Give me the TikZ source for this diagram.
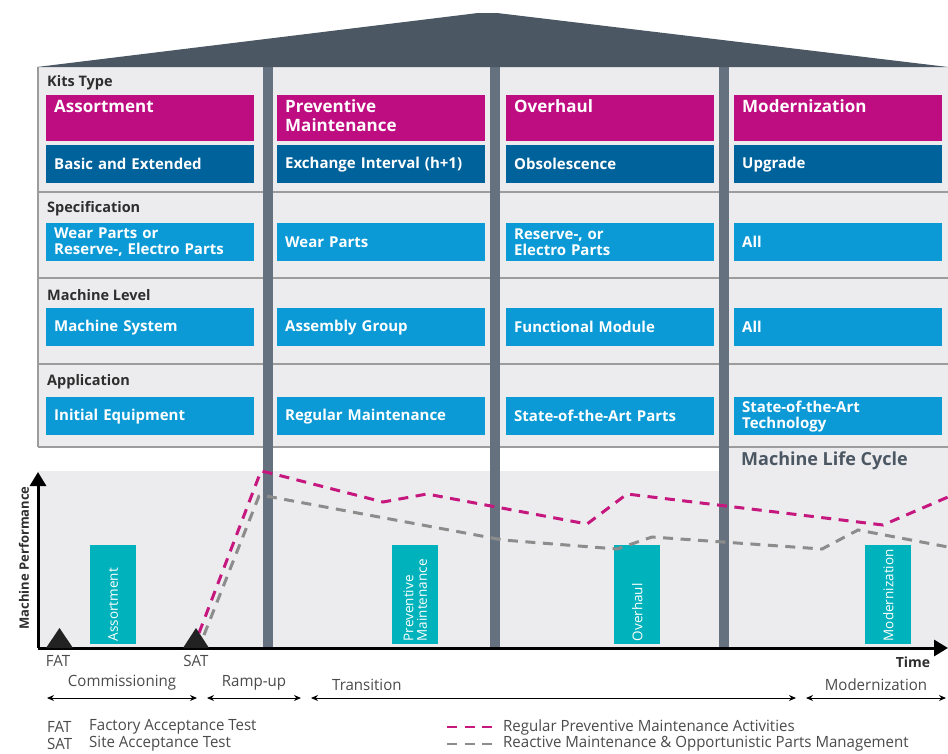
\documentclass[tikz,border=0pt]{standalone}
\usepackage{fontspec}
\setmainfont{Open Sans}
\newfontfamily\narrowfont[FakeStretch=0.97]{Open Sans}
\usetikzlibrary{arrows.meta, positioning}
\tikzset{x=1pt, y=-1pt, >={Stealth}}

\begin{document}
\begin{tikzpicture}
% Style
[
    line cap=butt,
    row title/.style={anchor=west, inner sep=0pt, text=title_color,
        font=\bfseries\fontsize{14.5}{16}\selectfont},
    kit box/.style={anchor=north west, fill=kit_color, text=white,
        minimum width=208pt, text width=192pt, align=left,
        inner xsep=8pt, inner ysep=4pt, text height=13pt, text depth=25pt,
        font=\bfseries\fontsize{17}{19.5}\selectfont},
    type box/.style={anchor=north west, fill=type_color, text=white,
        minimum width=208pt, minimum height=38pt, text width=192pt, align=left,
        inner xsep=8pt, inner ysep=2pt, font=\bfseries\fontsize{15}{16}\selectfont},
    item box/.style={type box, fill=item_color},
    bar/.style={anchor=north west, fill=bar_color, minimum width=46pt,
        minimum height=99pt, inner sep=0pt},
    bar text/.style={rotate=90, anchor=west, text=white, align=left, inner sep=0pt,
        font=\fontsize{13.5}{13.5}\selectfont},
    pillar/.style={fill=pillar_color},
    separator/.style={draw=line_color, line width=1.2pt},
    axis/.style={line width=3pt, -{Triangle[width=16pt,length=14pt]}},
    marker/.style={fill=marker_color},
    preventive line/.style={draw=preventive_color, line width=3pt, dash pattern=on 10pt off 7.5pt},
    reactive line/.style={draw=reactive_color, line width=3pt, dash pattern=on 10pt off 7.5pt},
    phase arrow/.style={line width=1pt, {Stealth[length=7pt,width=6pt]}-{Stealth[length=7pt,width=6pt]}},
    small text/.style={font=\narrowfont\fontsize{15.5}{17}\selectfont, text=text_color, inner sep=0pt},
    axis title/.style={font=\bfseries\fontsize{13}{15}\selectfont, text=title_color, inner sep=0pt}
]

% Define: Colors
\definecolor{roof_color}{HTML}{4B5763}
\definecolor{pillar_color}{HTML}{66717F}
\definecolor{table_color}{HTML}{ECECEE}
\definecolor{line_color}{HTML}{9C9C9C}
\definecolor{kit_color}{HTML}{BE0D80}
\definecolor{type_color}{HTML}{00629A}
\definecolor{item_color}{HTML}{0B9AD6}
\definecolor{bar_color}{HTML}{00B2BB}
\definecolor{preventive_color}{HTML}{C6177F}
\definecolor{reactive_color}{HTML}{8C8C8C}
\definecolor{title_color}{HTML}{2E2E2E}
\definecolor{text_color}{HTML}{4A4A4A}
\definecolor{marker_color}{HTML}{222222}

%================================== Prepare ==================================
\def\kitcolumn#1#2#3#4#5#6#7{
    % Draw: Column-#1
    \node[kit box]  (kit-#1)   at (#2,95)  {#3};
    \node[type box] (type-#1)  at (#2,145) {#4};
    \node[item box] (spec-#1)  at (#2,223) {#5};
    \node[item box] (level-#1) at (#2,308) {#6};
    \node[item box] (app-#1)   at (#2,397) {#7};
}

%=================================== Start ===================================
{
    \useasboundingbox (0,0) rectangle (948,753);

    % Draw: Table and chart background
    \fill[table_color] (38,67) rectangle (948,447);
    \fill[table_color] (38,471) rectangle (948,648);
    \fill[table_color] (729,447) rectangle (948,471);
    \foreach \y in {192, 278, 364, 447} {
        \draw[separator] (38,\y) -- (948,\y);
    }
    \draw[separator] (38,67) -- (38,447);

    % Draw: Pillars and roof
    \foreach \x in {263, 490, 719} {
        \fill[pillar] (\x,67) rectangle (\x+9.5,648);
    }
    \fill[roof_color] (37,67) -- (478,13) -- (497,13) -- (948,67) -- cycle;

    % Draw: Row titles
    \node[row title] (kits-title)  at (47,83)  {Kits Type};
    \node[row title] (spec-title)  at (47,209) {Specification};
    \node[row title] (level-title) at (47,295) {Machine Level};
    \node[row title] (app-title)   at (47,382) {Application};

    % Draw: Columns
    \kitcolumn{1}{46}{Assortment}{Basic and Extended}
        {Wear Parts or\\Reserve-, Electro Parts}{Machine System}{Initial Equipment}
    \kitcolumn{2}{277}{Preventive\\Maintenance}{Exchange Interval (h+1)}
        {Wear Parts}{Assembly Group}{Regular Maintenance}
    \kitcolumn{3}{506}{Overhaul}{Obsolescence}
        {Reserve-, or\\Electro Parts}{Functional Module}{State-of-the-Art Parts}
    \kitcolumn{4}{734}{Modernization}{Upgrade}
        {All}{All}{State-of-the-Art\\Technology}

    \node[font=\bfseries\fontsize{18}{20}\selectfont, text=roof_color, anchor=west, inner sep=0pt]
        (life-cycle) at (741,461) {Machine Life Cycle};

    % Draw: Kit bars
    \foreach \i/\x/\txt in {1/90/Assortment, 2/392/Preventive\\Maintenance,
                            3/614/Overhaul, 4/865/Modernization} {
        \node[bar] (bar-\i) at (\x,545) {};
        \node[bar text] (bar-text-\i) at ([yshift=3pt]bar-\i.south) {\txt};
    }

    % Draw: Performance curves
    \draw[preventive line] (199,633) -- (261,471) -- (270,473) -- (383,502) -- (427,494)
        -- (587,524) -- (627,494) -- (883,525) -- (948,497);
    \draw[reactive line] (204,635) -- (259,496) -- (266,496) -- (503,540) -- (617,549)
        -- (652,537) -- (822,549) -- (858,530) -- (948,547);

    % Draw: Axis
    \coordinate (origin) at (38,648);
    \coordinate (y-end)  at (38,472);
    \coordinate (x-end)  at (948,648);
    \draw[axis] (origin) -- (y-end);
    \draw[axis] (origin) -- (x-end);
    \node[axis title, rotate=90] (perf-title) at (24,558) {Machine Performance};
    \node[axis title, font=\bfseries\fontsize{14}{16}\selectfont] (time-title) at (913,662) {Time};

    % Draw: FAT and SAT markers
    \fill[marker] (46,648) -- (59.5,628) -- (73,648) -- cycle;
    \fill[marker] (183,648) -- (196,628) -- (209,648) -- cycle;
    \node[small text] (fat-label) at (58,661) {FAT};
    \node[small text] (sat-label) at (196,661) {SAT};

    % Draw: Phases
    \foreach \n/\x in {0/47, 1/197, 2/207, 3/301, 4/311, 5/796, 6/806, 7/946} {
        \coordinate (p\n) at (\x,698);
    }
    \draw[phase arrow] (p0) -- node[small text, above=7pt] (commissioning) {Commissioning} (p1);
    \draw[phase arrow] (p2) -- node[small text, above=7pt] (ramp-up) {Ramp-up} (p3);
    \draw[phase arrow] (p4) -- (p5);
    \node[small text, anchor=west] (transition) at (332,685) {Transition};
    \draw[phase arrow] (p6) -- node[small text, above=7pt] (modernization) {Modernization} (p7);

    % Draw: Legend
    \node[small text, anchor=west] (fat-key)  at (47,727) {FAT};
    \node[small text, anchor=west] (fat-text) at (89,727) {Factory Acceptance Test};
    \node[small text, anchor=west] (sat-key)  at (47,744) {SAT};
    \node[small text, anchor=west] (sat-text) at (89,744) {Site Acceptance Test};
    \node[small text, anchor=west] (prev-text)  at (503,727) {Regular Preventive Maintenance Activities};
    \node[small text, anchor=west] (react-text) at (503,744) {Reactive Maintenance \& Opportunistic Parts Management};
    \draw[preventive line, line width=2.5pt] ([xshift=-56pt]prev-text.west) -- ++(45,0);
    \draw[reactive line, line width=2.5pt] ([xshift=-56pt]react-text.west) -- ++(45,0);
}
%==================================== END ====================================
\end{tikzpicture}
\end{document}
